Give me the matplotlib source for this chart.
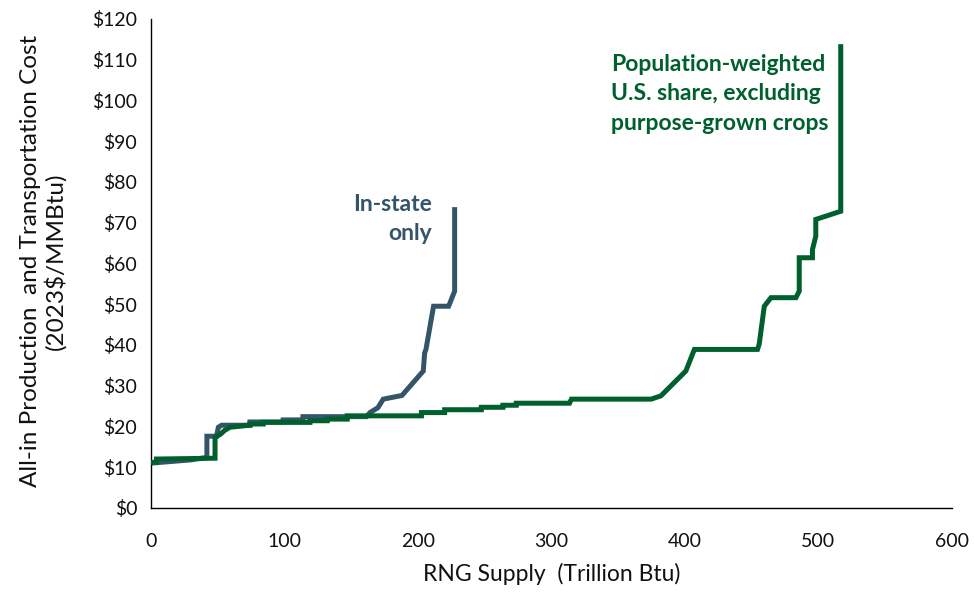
import matplotlib
matplotlib.use("Agg")
import matplotlib.pyplot as plt
from matplotlib.ticker import FuncFormatter, MultipleLocator

plt.rcParams['font.family'] = ['Lato', 'DejaVu Sans']

# In-state only supply curve (Trillion Btu, 2023$/MMBtu)
instate_supply = [0, 30, 41.8, 41.8, 49, 50.4, 52.9, 74.1, 74.1, 99, 99, 113.8, 113.8,
                  161.5, 164, 170, 174, 188, 204, 205, 206, 211.7, 223, 227.5, 227.5]
instate_cost = [11.0, 11.8, 12.4, 17.6, 17.6, 19.8, 20.3, 20.3, 21.1, 21.1, 21.6, 21.6, 22.4,
                22.4, 23.4, 24.6, 26.7, 27.6, 33.6, 38.0, 38.9, 49.5, 49.5, 53.2, 73.2]

# Population-weighted U.S. share, excluding purpose-grown crops
us_supply = [0, 4, 4, 47.9, 47.9, 52, 55, 59, 74, 74, 84, 84, 119, 119, 132, 132, 147, 147,
             202.6, 202.6, 220, 220, 247.5, 247.5, 263.7, 263.7, 273.7, 273.7, 313.6, 315,
             374.8, 382.1, 400.8, 407.2, 454.5, 455.8, 459.6, 464.6, 483.3, 485.8, 485.8,
             495.7, 495.7, 498.2, 498.2, 516.9, 516.9]
us_cost = [11.2, 11.2, 12.0, 12.2, 17.3, 18.1, 19.0, 19.8, 20.3, 20.6, 20.6, 21.0, 21.0, 21.4,
           21.4, 21.8, 21.8, 22.6, 22.6, 23.4, 23.4, 24.1, 24.1, 24.7, 24.7, 25.2, 25.2, 25.7,
           25.7, 26.7, 26.7, 27.5, 33.6, 38.9, 38.9, 40.2, 49.5, 51.6, 51.6, 53.2, 61.4, 61.4,
           63.4, 66.7, 70.8, 72.8, 113.2]

x_ticks = [0, 100, 200, 300, 400, 500, 600]

blue = "#34546a"
green = "#00602d"

fig = plt.figure(figsize=(9.75, 5.92), dpi=100)
ax = fig.add_axes([0.155, 0.142, 0.821, 0.826])

ax.plot(instate_supply, instate_cost, color=blue, lw=3.6, solid_joinstyle='miter', zorder=2)
ax.plot(us_supply, us_cost, color=green, lw=3.6, solid_joinstyle='miter', zorder=3)

ax.set_xlim(0, 600)
ax.set_ylim(0, 120)
ax.set_xticks(x_ticks)
ax.yaxis.set_major_locator(MultipleLocator(10))
ax.yaxis.set_major_formatter(FuncFormatter(lambda v, p: f"${v:.0f}"))
ax.tick_params(length=0, labelsize=14, colors="#111111")
ax.tick_params(axis='x', pad=18)
ax.tick_params(axis='y', pad=10)

for s in ("top", "right"):
    ax.spines[s].set_visible(False)
for s in ("left", "bottom"):
    ax.spines[s].set_color("#000000")
    ax.spines[s].set_linewidth(1.0)

ax.set_xlabel("RNG Supply  (Trillion Btu)", fontsize=16.5, color="#111111", labelpad=9)
ax.set_ylabel("All-in Production  and Transportation Cost\n(2023$/MMBtu)", fontsize=17.5,
              color="#111111", linespacing=1.15)
ax.yaxis.set_label_coords(-0.106, 0.505)

ax.text(210.5, 64.7, "In-state\nonly", color=blue, fontsize=16.5, fontweight='bold',
        ha='right', va='bottom', linespacing=1.5)
ax.text(345, 111.5, "Population-weighted\nU.S. share, excluding\npurpose-grown crops",
        color=green, fontsize=16.5, fontweight='bold', ha='left', va='top', linespacing=1.5)

fig.savefig("out.png", dpi=100)
